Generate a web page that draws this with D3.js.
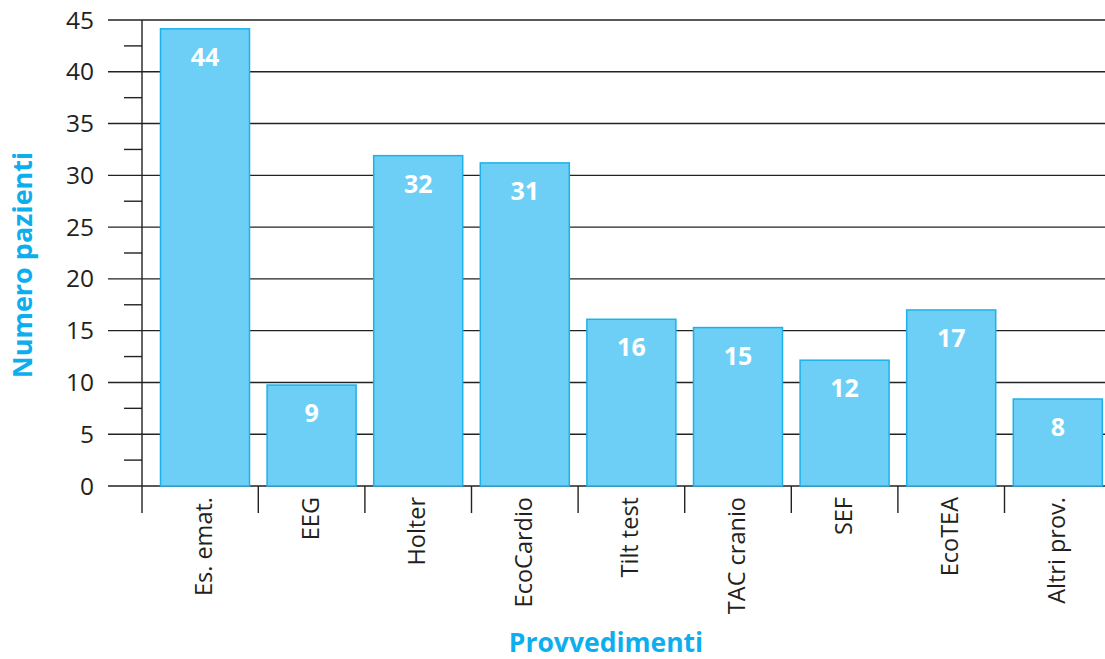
<!DOCTYPE html>
<html>
<head>
<meta charset="utf-8">
<script src="https://cdn.jsdelivr.net/npm/d3@7"></script>
<style>
  body { margin: 0; background: #fff; }
  text { font-family: "Open Sans", "Noto Sans", sans-serif; }
</style>
</head>
<body>
<div id="chart"></div>
<script>
// dati
const categories = ["Es. emat.", "EEG", "Holter", "EcoCardio", "Tilt test", "TAC cranio", "SEF", "EcoTEA", "Altri prov."]
const barValues = [44.15, 9.75, 31.9, 31.2, 16.1, 15.3, 12.15, 17, 8.4]
const valueLabels = [44, 9, 32, 31, 16, 15, 12, 17, 8]
const yTicks = [0, 5, 10, 15, 20, 25, 30, 35, 40, 45]
const yMinorTicks = [2.5, 7.5, 12.5, 17.5, 22.5, 27.5, 32.5, 37.5, 42.5]

const width = 1105
const height = 659
const axisX = 142
const blue = "#1eb1e9"
const titleBlue = "#0daeee"

const svg = d3.select("div#chart").append("svg").attr("width", width).attr("height", height)

// scale
const x = d3.scaleBand().domain(categories).range([151.7, 1111.1]).paddingInner(0.165).paddingOuter(0.0825)
const y = d3.scaleLinear().domain([0, 45]).range([486, 20])

// griglia
svg.append("g").selectAll("line").data(yTicks).join("line")
    .attr("x1", 108).attr("x2", width)
    .attr("y1", d => y(d)).attr("y2", d => y(d))
    .attr("stroke", "#222").attr("stroke-width", 1.4)

// tacche minori
svg.append("g").selectAll("line").data(yMinorTicks).join("line")
    .attr("x1", 124).attr("x2", axisX)
    .attr("y1", d => y(d)).attr("y2", d => y(d))
    .attr("stroke", "#222").attr("stroke-width", 1.4)

// etichette asse y
svg.append("g").selectAll("text").data(yTicks).join("text")
    .attr("x", 94).attr("y", d => y(d) + 8.5)
    .attr("text-anchor", "end")
    .attr("font-size", 24.5).attr("fill", "#231f20")
    .text(d => d)

// asse y
svg.append("line").attr("x1", axisX).attr("x2", axisX).attr("y1", y(45)).attr("y2", 513)
    .attr("stroke", "#222").attr("stroke-width", 1.4)

// separatori categorie
const step = x.step()
svg.append("g").selectAll("line").data(categories.slice(1)).join("line")
    .attr("x1", d => x(d) - step * x.paddingInner() / 2)
    .attr("x2", d => x(d) - step * x.paddingInner() / 2)
    .attr("y1", y(0)).attr("y2", 513)
    .attr("stroke", "#222").attr("stroke-width", 1.4)

// barre
svg.append("g").selectAll("rect").data(barValues).join("rect")
    .attr("x", (d, i) => x(categories[i]))
    .attr("y", d => y(d))
    .attr("width", x.bandwidth())
    .attr("height", d => y(0) - y(d))
    .attr("fill", "#6dcff6")
    .attr("stroke", blue).attr("stroke-width", 1.5)

// valori
svg.append("g").selectAll("text").data(barValues).join("text")
    .attr("x", (d, i) => x(categories[i]) + x.bandwidth() / 2)
    .attr("y", d => y(d) + 37)
    .attr("text-anchor", "middle")
    .attr("font-size", 25).attr("font-weight", "bold").attr("fill", "#fff")
    .text((d, i) => valueLabels[i])

// etichette categorie
svg.append("g").selectAll("text").data(categories).join("text")
    .attr("transform", d => `translate(${x(d) + x.bandwidth() / 2 + 7}, 497) rotate(-90)`)
    .attr("text-anchor", "end")
    .attr("font-size", 23.5).attr("fill", "#231f20")
    .text(d => d)

// titoli assi
svg.append("text")
    .attr("transform", "translate(32, 265) rotate(-90)")
    .attr("text-anchor", "middle")
    .attr("font-size", 27).attr("font-weight", "bold").attr("fill", titleBlue)
    .text("Numero pazienti")

svg.append("text")
    .attr("x", 606).attr("y", 652)
    .attr("text-anchor", "middle")
    .attr("font-size", 26.5).attr("font-weight", "bold").attr("fill", titleBlue)
    .text("Provvedimenti")
</script>
</body>
</html>
